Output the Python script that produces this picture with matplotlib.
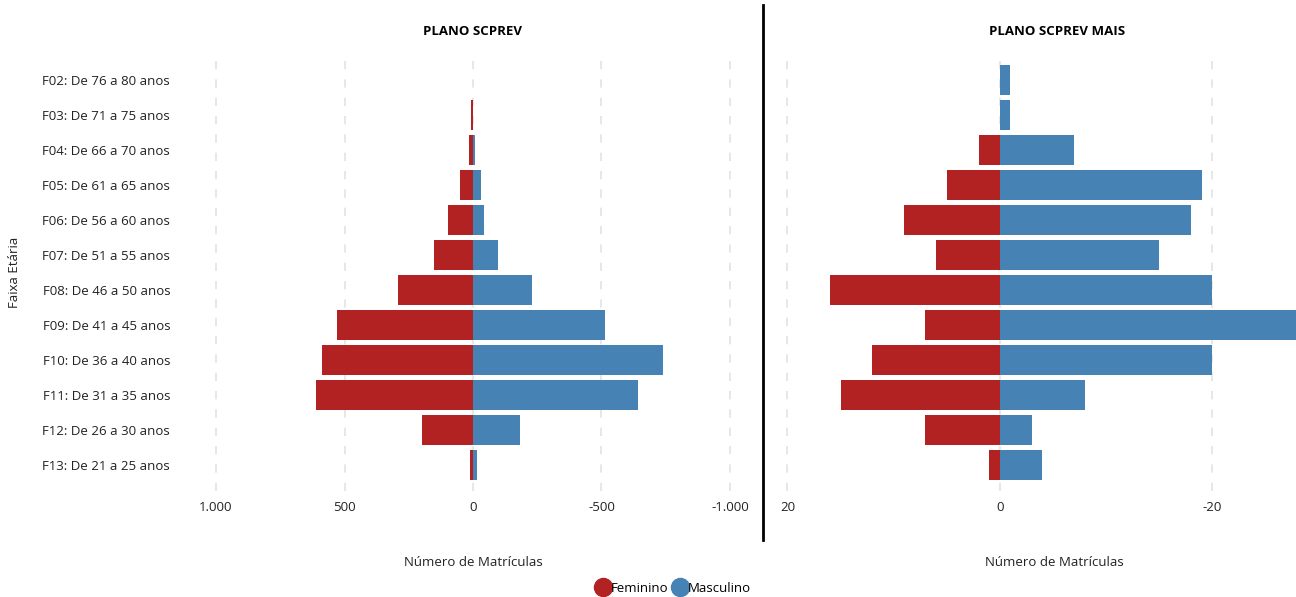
import matplotlib.pyplot as plt
from matplotlib.lines import Line2D
import numpy as np

plt.rcParams['font.family'] = ['Open Sans', 'DejaVu Sans']

faixas = ['F02: De 76 a 80 anos', 'F03: De 71 a 75 anos', 'F04: De 66 a 70 anos',
          'F05: De 61 a 65 anos', 'F06: De 56 a 60 anos', 'F07: De 51 a 55 anos',
          'F08: De 46 a 50 anos', 'F09: De 41 a 45 anos', 'F10: De 36 a 40 anos',
          'F11: De 31 a 35 anos', 'F12: De 26 a 30 anos', 'F13: De 21 a 25 anos']

# PLANO SCPREV
scprev_fem = [0, 8, 15, 50, 98, 152, 293, 531, 586, 609, 199, 12]
scprev_masc = [0, 0, 6, 30, 43, 98, 230, 512, 738, 641, 184, 16]

# PLANO SCPREV MAIS
mais_fem = [0, 0, 2, 5, 9, 6, 16, 7, 12, 15, 7, 1]
mais_masc = [1, 1, 7, 19, 18, 15, 20, 30, 20, 8, 3, 4]

cor_fem = '#B22222'
cor_masc = '#4682B4'

W, H = 1296, 597
fig = plt.figure(figsize=(W / 100, H / 100), dpi=100)

def box(x0, x1, y0, y1):
    return [x0 / W, 1 - y1 / H, (x1 - x0) / W, (y1 - y0) / H]

ax1 = fig.add_axes(box(216, 730, 62.5, 482.5))
ax2 = fig.add_axes(box(780, 1296, 62.5, 482.5))

y = np.arange(len(faixas))

def painel(ax, fem, masc, titulo, xlim, ticks, labels):
    ax.barh(y, fem, height=0.83, color=cor_fem, zorder=3)
    ax.barh(y, [-m for m in masc], height=0.83, color=cor_masc, zorder=3)
    ax.set_xlim(*xlim)
    ax.set_ylim(len(faixas) - 0.5, -0.5)
    ax.set_xticks(ticks)
    ax.set_xticklabels(labels, fontsize=9.5, color='#222222')
    for t in ticks:
        ax.axvline(t, ymin=-0.02, ymax=1.02, color='#E3E3E3', lw=1.2,
                   ls=(0, (5, 6)), zorder=1, clip_on=False)
    for s in ax.spines.values():
        s.set_visible(False)
    ax.tick_params(axis='x', length=0, pad=13)
    ax.set_title(titulo, fontsize=9.5, fontweight='bold', pad=20)
    ax.set_xlabel('Número de Matrículas', fontsize=9.5, color='#222222')

painel(ax1, scprev_fem, scprev_masc, 'PLANO SCPREV', (1000, -1000),
       [1000, 500, 0, -500, -1000], ['1.000', '500', '0', '-500', '-1.000'])
painel(ax2, mais_fem, mais_masc, 'PLANO SCPREV MAIS', (20.7, -27.9),
       [20, 0, -20], ['20', '0', '-20'])

ax1.set_yticks(y)
ax1.set_yticklabels(faixas, fontsize=9.5, color='#222222')
ax1.tick_params(axis='y', length=0, pad=33)
ax1.set_ylabel('Faixa Etária', fontsize=9.5, color='#222222')
ax1.yaxis.set_label_coords(-0.38, 0.5)
ax2.set_yticks([])

ax1.xaxis.set_label_coords(0.5, -0.175)
ax2.xaxis.set_label_coords((1054 - 780) / 516, -0.175)
ax2.title.set_position(((1057 - 780) / 516, 1.0))

fig.add_artist(Line2D([763 / W, 763 / W], [1 - 5 / H, 1 - 540 / H], color='black', lw=2))

handles = [Line2D([], [], marker='o', ls='', markersize=13, color=cor_fem),
           Line2D([], [], marker='o', ls='', markersize=13, color=cor_masc)]
fig.legend(handles, ['Feminino', 'Masculino'], loc='center', bbox_to_anchor=(673 / W, 1 - 588 / H),
           ncol=2, frameon=False, fontsize=9.5, handletextpad=0.0, columnspacing=0.3,
           handlelength=1.2)

fig.savefig('out.png', dpi=100)
